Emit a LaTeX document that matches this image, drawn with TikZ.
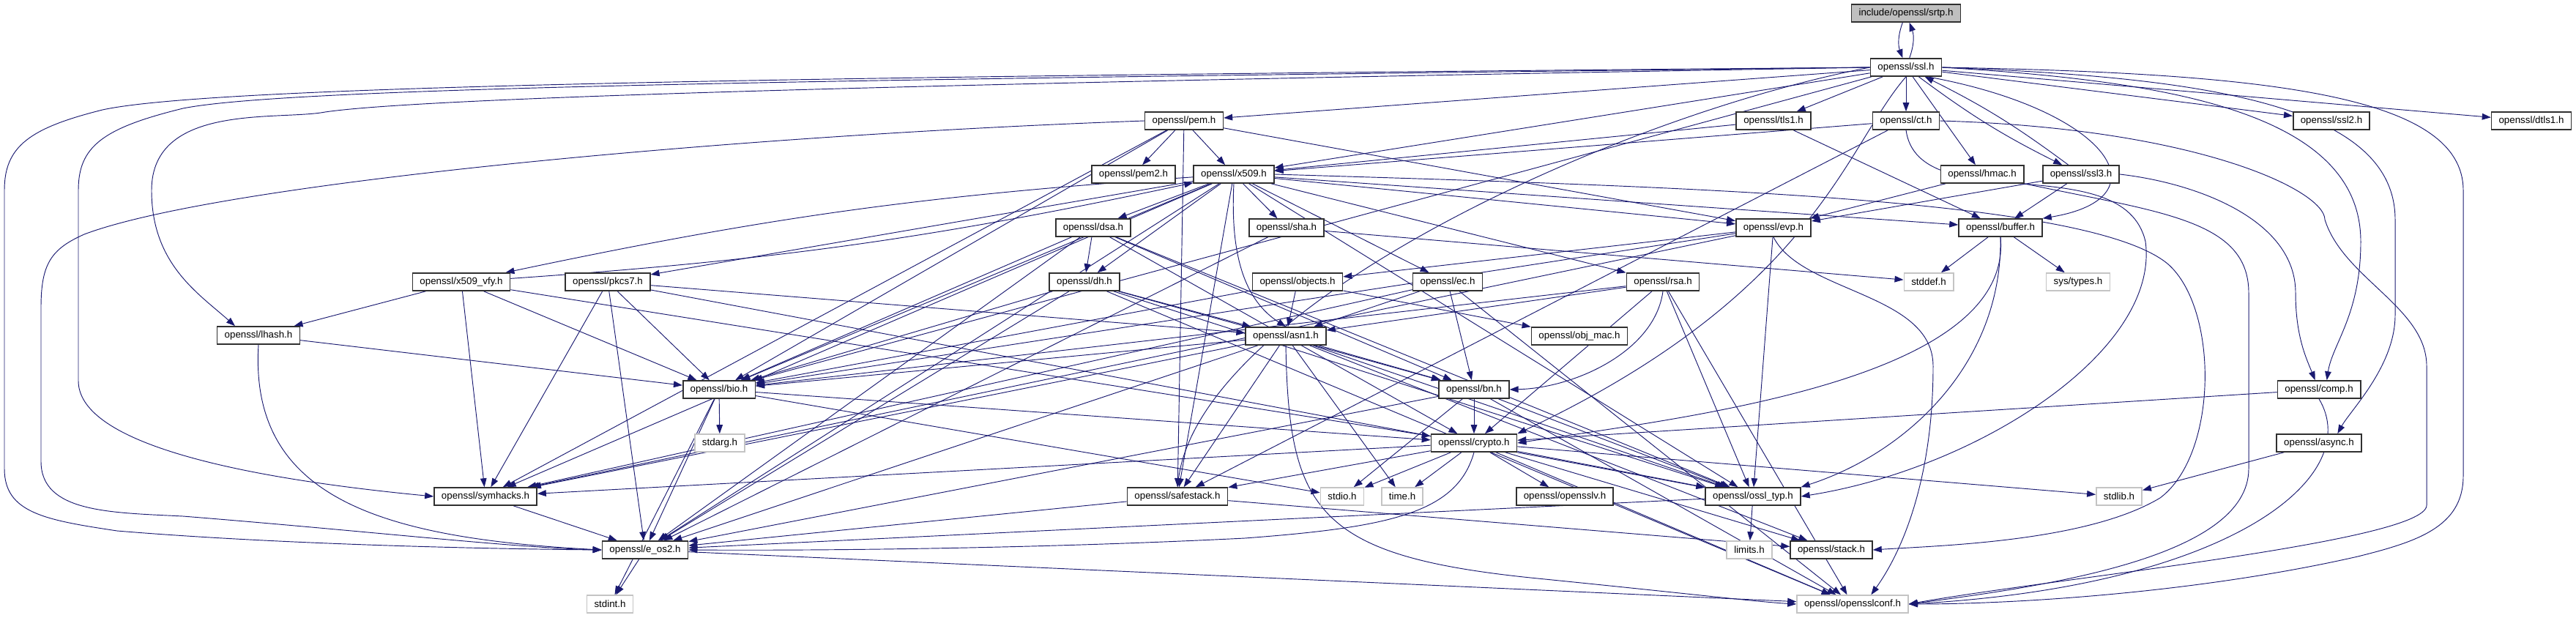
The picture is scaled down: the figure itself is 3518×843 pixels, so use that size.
\documentclass[tikz,border=0pt]{standalone}
\usepackage{fontspec}
\setmainfont{Liberation Sans}
\usetikzlibrary{arrows.meta, backgrounds}
\definecolor{incEdge}{HTML}{191970}
\definecolor{incGrey}{HTML}{BFBFBF}
\definecolor{incSys}{HTML}{C4C4C4}
\definecolor{incFrame}{HTML}{303030}

\begin{document}
\begin{tikzpicture}[
  x=0.75pt, y=-0.75pt,
  font=\fontsize{10}{12}\selectfont,
  >={Triangle[length=9pt, width=6.5pt]},
  hdr/.style={draw=incFrame, line width=1.2pt, fill=white, inner xsep=7.5pt,
              inner ysep=0pt, minimum height=18pt},
  sys/.style={hdr, draw=incSys},
  cur/.style={hdr, fill=incGrey},
  dep/.style={->, color=incEdge, line width=0.7pt},
]
\useasboundingbox (0,0) rectangle (3518,843);

% ================================ the headers ================================
% One row every 73px, as dot laid them out; grey frames are system headers.
\node[cur] (srtp) at (2603,18) {include/openssl/srtp.h};
\node[hdr] (ssl) at (2603,92) {openssl/ssl.h};

\node[hdr] (pem) at (1617,165) {openssl/pem.h};
\node[hdr] (tls1) at (2422,165) {openssl/tls1.h};
\node[hdr] (ct) at (2603,165) {openssl/ct.h};
\node[hdr] (ssl2) at (3184,165) {openssl/ssl2.h};
\node[hdr] (dtls1) at (3457,165) {openssl/dtls1.h};

\node[hdr] (pem2) at (1548,238) {openssl/pem2.h};
\node[hdr] (x509) at (1685,238) {openssl/x509.h};
\node[hdr] (hmac) at (2707,238) {openssl/hmac.h};
\node[hdr] (ssl3) at (2842,238) {openssl/ssl3.h};

\node[hdr] (dsa) at (1493,311) {openssl/dsa.h};
\node[hdr] (sha) at (1757,311) {openssl/sha.h};
\node[hdr] (evp) at (2422,311) {openssl/evp.h};
\node[hdr] (buffer) at (2732,311) {openssl/buffer.h};

\node[hdr] (x509vfy) at (630,385) {openssl/x509\_vfy.h};
\node[hdr] (pkcs7) at (830,385) {openssl/pkcs7.h};
\node[hdr] (dh) at (1481,385) {openssl/dh.h};
\node[hdr] (objects) at (1772,385) {openssl/objects.h};
\node[hdr] (ec) at (1977,385) {openssl/ec.h};
\node[hdr] (rsa) at (2271,385) {openssl/rsa.h};
\node[sys] (stddef) at (2634,385) {stddef.h};
\node[sys] (systypes) at (2838,385) {sys/types.h};

\node[hdr] (lhash) at (353,458) {openssl/lhash.h};
\node[hdr] (asn1) at (1756,459) {openssl/asn1.h};
\node[hdr] (objmac) at (2157,459) {openssl/obj\_mac.h};

\node[hdr] (bio) at (982,532) {openssl/bio.h};
\node[hdr] (bn) at (2013,532) {openssl/bn.h};
\node[hdr] (comp) at (3167,532) {openssl/comp.h};

\node[sys] (stdarg) at (983,605) {stdarg.h};
\node[hdr] (crypto) at (2013,605) {openssl/crypto.h};
\node[hdr] (async) at (3167,605) {openssl/async.h};

\node[hdr] (symhacks) at (663,678) {openssl/symhacks.h};
\node[hdr] (safestack) at (1608,678) {openssl/safestack.h};
\node[sys] (stdio) at (1833,678) {stdio.h};
\node[sys] (timeh) at (1915,678) {time.h};
\node[hdr] (opensslv) at (2137,678) {openssl/opensslv.h};
\node[hdr] (ossltyp) at (2394,678) {openssl/ossl\_typ.h};
\node[sys] (stdlib) at (2894,678) {stdlib.h};

\node[hdr] (eos2) at (881,751) {openssl/e\_os2.h};
\node[sys] (limits) at (2389,751) {limits.h};
\node[hdr] (stack) at (2501,751) {openssl/stack.h};

\node[sys] (stdint) at (833,825) {stdint.h};
\node[sys] (conf) at (2530,825) {openssl/opensslconf.h};

% ================================ the includes ===============================
\begin{scope}[on background layer]
  % two-way pairs
  \draw[dep] (srtp) to[bend right=20] (ssl);
  \draw[dep] (ssl) to[bend right=20] (srtp);
  \draw[dep] (ssl) to[bend right=5] (ssl3);
  \draw[dep] (ssl3) to[bend right=5] (ssl);
  \draw[dep] (x509) to[bend right=4] (x509vfy);
  \draw[dep] (x509vfy) to[bend right=4] (x509);

  % plain ones
  \foreach \src/\dst in {ssl/tls1, ssl/ct, ssl/hmac, ssl/ssl2, ssl/dtls1, ssl/pem,
      ssl/x509, ssl/bio, ssl3/buffer, ssl3/evp, tls1/buffer, tls1/x509,
      ct/x509, ct/safestack, hmac/evp,
      pem/pem2, pem/x509, pem/evp, pem/bio, pem/symhacks, pem/safestack,
      x509/dsa, x509/sha, x509/dh, x509/ec, x509/rsa, x509/evp,
      x509/buffer, x509/bio, x509/symhacks, x509/eos2, x509/ossltyp,
      x509/safestack, x509/pkcs7,
      x509vfy/lhash, x509vfy/bio, x509vfy/symhacks, x509vfy/crypto,
      pkcs7/asn1, pkcs7/bio, pkcs7/eos2, pkcs7/symhacks, pkcs7/ossltyp,
      dsa/dh, dsa/bio, dsa/eos2, dsa/crypto, dsa/ossltyp, dsa/bn,
      dh/bio, dh/asn1, dh/eos2, dh/ossltyp, dh/bn, dh/conf,
      sha/eos2, sha/stddef, objects/objmac, objects/asn1, objects/bio,
      ec/asn1, ec/symhacks, ec/bn, ec/conf,
      rsa/asn1, rsa/bio, rsa/crypto, rsa/ossltyp, rsa/conf,
      evp/objects, evp/bio, evp/symhacks, evp/ossltyp,
      buffer/stddef, buffer/systypes, lhash/bio,
      asn1/bio, asn1/symhacks, asn1/safestack, asn1/eos2, asn1/timeh,
      asn1/bn, asn1/ossltyp, asn1/stack,
      bio/stdarg, bio/stdio, bio/crypto, bio/eos2, bio/stdint,
      bn/crypto, bn/stdio, bn/eos2, bn/ossltyp, bn/conf,
      comp/crypto, async/stdlib,
      crypto/safestack, crypto/stdio, crypto/timeh, crypto/opensslv,
      crypto/ossltyp, crypto/stack, crypto/stdlib, crypto/symhacks, crypto/conf,
      safestack/stack, safestack/eos2, ossltyp/eos2, ossltyp/limits,
      symhacks/eos2, eos2/stdint, eos2/conf}
    \draw[dep] (\src) -- (\dst);

  % the long ones that dot sent round the left edge
  \draw[dep] (ssl.west) .. controls (1200,104) and (300,115) .. (140,150)
    .. controls (40,175) and (6,200) .. (6,260) -- (6,640)
    .. controls (6,700) and (60,710) .. (160,725)
    .. controls (400,745) and (700,750) .. (eos2.west);
  \draw[dep] (ssl.west) .. controls (1200,108) and (400,118) .. (250,148)
    .. controls (140,175) and (107,200) .. (107,260) -- (107,520)
    .. controls (107,600) and (300,650) .. (symhacks.west);
  \draw[dep] (ssl.west) .. controls (1500,110) and (600,130) .. (444,153)
    .. controls (380,165) and (207,140) .. (207,260)
    .. controls (207,360) and (270,400) .. ([xshift=-24pt]lhash.north);
  \draw[dep] (pem.west) .. controls (1000,185) and (300,250) .. (115,320)
    .. controls (70,340) and (56,360) .. (56,420) -- (56,630)
    .. controls (56,700) and (150,700) .. (250,705)
    .. controls (500,725) and (700,748) .. (eos2.west);
  \draw[dep] (lhash.south) .. controls (340,680) and (520,735) .. (eos2.west);

  % ... and round the right edge
  \draw[dep] (ssl.east) .. controls (3100,100) and (3364,130) .. (3364,260)
    -- (3364,650) .. controls (3364,720) and (3300,740) .. (3220,760)
    .. controls (3000,810) and (2750,825) .. (conf.east);
  \draw[dep] (ssl.east) .. controls (3000,105) and (3271,140) .. (3271,300)
    -- (3271,430) .. controls (3271,500) and (3210,560) .. ([xshift=19pt]async.north);
  \draw[dep] (ssl.east) .. controls (2950,110) and (3224,150) .. (3224,330)
    .. controls (3224,430) and (3185,470) .. ([xshift=8pt]comp.north);
  \draw[dep] (ssl3.east) .. controls (3000,250) and (3135,300) .. (3135,400)
    .. controls (3135,460) and (3150,490) .. ([xshift=-4pt]comp.north);
  \draw[dep] (ct.east) .. controls (3000,175) and (3175,260) .. (3175,300)
    .. controls (3200,380) and (3314,420) .. (3314,500) -- (3314,690)
    .. controls (3314,740) and (2800,790) .. (conf.east);
  \draw[dep] (hmac.south east) .. controls (2950,290) and (3071,300) .. (3071,400)
    -- (3071,640) .. controls (3071,760) and (2800,800) .. (conf.east);
  \draw[dep] (comp.south) .. controls (3230,650) and (3050,800) .. (conf.east);
  \draw[dep] (x509.east) .. controls (2300,255) and (2850,270) .. (2960,360)
    .. controls (3030,420) and (3030,620) .. (2950,680)
    .. controls (2850,740) and (2650,745) .. (stack.east);

  % the rest that bend
  \draw[dep] ([xshift=22pt]ssl.south) .. controls (2880,150) and (2960,270)
    .. (buffer.north east);
  \draw[dep] (ssl.south) .. controls (2520,200) and (2480,400) .. (crypto.north east);
  \draw[dep] (ssl.west) .. controls (2200,160) and (1640,420) .. (safestack.north);
  \draw[dep] (x509.south) .. controls (1680,350) and (1700,410) .. (asn1.north);
  \draw[dep] (rsa.south) .. controls (2260,480) and (2150,530) .. (bn.east);
  \draw[dep] (ct.south) .. controls (2620,300) and (2900,200) .. (2930,330)
    .. controls (2950,480) and (2700,640) .. (ossltyp.east);
  \draw[dep] (evp.south) .. controls (2460,400) and (2640,400) .. (2640,500)
    .. controls (2640,650) and (2600,750) .. ([xshift=19pt]conf.north);
  \draw[dep] (buffer.south) .. controls (2735,500) and (2600,620) .. (ossltyp.north east);
  \draw[dep] (buffer.south) .. controls (2750,520) and (2300,570) .. (crypto.east);
  \draw[dep] (crypto.south) .. controls (1990,700) and (1900,720) .. (1700,735)
    .. controls (1400,750) and (1100,752) .. (eos2.east);
  \draw[dep] (asn1.south) .. controls (1760,700) and (1800,760) .. (2100,790)
    .. controls (2300,810) and (2400,822) .. (conf.west);
\end{scope}
\end{tikzpicture}
\end{document}
